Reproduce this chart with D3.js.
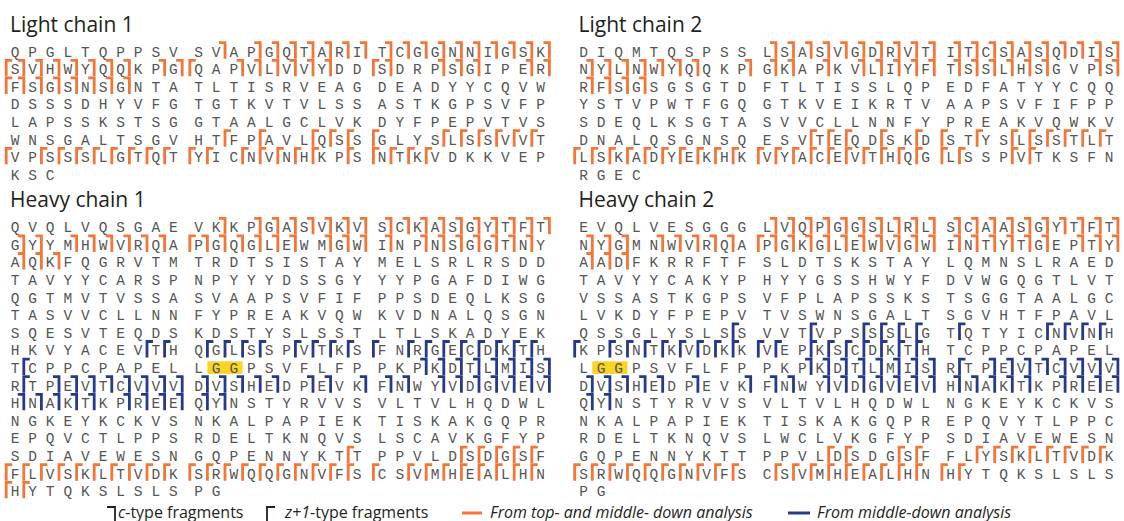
<!DOCTYPE html>
<html>
<head>
<meta charset="utf-8">
<title></title>
<script src="https://cdn.jsdelivr.net/npm/d3@7"></script>
<style>
  body { margin:0; background:#fff; }
  svg { display:block; }
  .title { font-family: "Open Sans", sans-serif; font-size: 21px; fill: #231f20; }
  .res { font-family: "Courier New", "Liberation Mono", monospace; font-size: 14.5px; fill: #555; }
  .legend text { font-family: "Open Sans", sans-serif; font-size: 16px; fill: #231f20; }
</style>
</head>
<body>
<script>
// sequences, one string of 30 residues per row
const lc1Seq = [
  "QPGLTQPPSVSVAPGQTARITCGGNNIGSK",
  "SVHWYQQKPGQAPVLVVYDDSDRPSGIPER",
  "FSGSNSGNTATLTISRVEAGDEADYYCQVW",
  "DSSSDHYVFGTGTKVTVLSSASTKGPSVFP",
  "LAPSSKSTSGGTAALGCLVKDYFPEPVTVS",
  "WNSGALTSGVHTFPAVLQSSGLYSLSSVVT",
  "VPSSSLGTQTYICNVNHKPSNTKVDKKVEP",
  "KSC"
];
const lc2Seq = [
  "DIQMTQSPSSLSASVGDRVTITCSASQDIS",
  "NYLNWYQQKPGKAPKVLIYFTSSLHSGVPS",
  "RFSGSGSGTDFTLTISSLQPEDFATYYCQQ",
  "YSTVPWTFGQGTKVEIKRTVAAPSVFIFPP",
  "SDEQLKSGTASVVCLLNNFYPREAKVQWKV",
  "DNALQSGNSQESVTEQDSKDSTYSLSSTLT",
  "LSKADYEKHKVYACEVTHQGLSSPVTKSFN",
  "RGEC"
];
const hc1Seq = [
  "QVQLVQSGAEVKKPGASVKVSCKASGYTFT",
  "GYYMHWVRQAPGQGLEWMGWINPNSGGTNY",
  "AQKFQGRVTMTRDTSISTAYMELSRLRSDD",
  "TAVYYCARSPNPYYYDSSGYYYPGAFDIWG",
  "QGTMVTVSSASVAAPSVFIFPPSDEQLKSG",
  "TASVVCLLNNFYPREAKVQWKVDNALQSGN",
  "SQESVTEQDSKDSTYSLSSTLTLSKADYEK",
  "HKVYACEVTHQGLSSPVTKSFNRGECDKTH",
  "TCPPCPAPELLGGPSVFLFPPKPKDTLMIS",
  "RTPEVTCVVVDVSHEDPEVKFNWYVDGVEV",
  "HNAKTKPREEQYNSTYRVVSVLTVLHQDWL",
  "NGKEYKCKVSNKALPAPIEKTISKAKGQPR",
  "EPQVCTLPPSRDELTKNQVSLSCAVKGFYP",
  "SDIAVEWESNGQPENNYKTTPPVLDSDGSF",
  "FLVSKLTVDKSRWQQGNVFSCSVMHEALHN",
  "HYTQKSLSLSPG"
];
const hc2Seq = [
  "EVQLVESGGGLVQPGGSLRLSCAASGYTFT",
  "NYGMNWVRQAPGKGLEWVGWINTYTGEPTY",
  "AADFKRRFTFSLDTSKSTAYLQMNSLRAED",
  "TAVYYCAKYPHYYGSSHWYFDVWGQGTLVT",
  "VSSASTKGPSVFPLAPSSKSTSGGTAALGC",
  "LVKDYFPEPVTVSWNSGALTSGVHTFPAVL",
  "QSSGLYSLSSVVTVPSSSLGTQTYICNVNH",
  "KPSNTKVDKKVEPKSCDKTHTCPPCPAPEL",
  "LGGPSVFLFPPKPKDTLMISRTPEVTCVVV",
  "DVSHEDPEVKFNWYVDGVEVHNAKTKPREE",
  "QYNSTYRVVSVLTVLHQDWLNGKEYKCKVS",
  "NKALPAPIEKTISKAKGQPREPQVYTLPPC",
  "RDELTKNQVSLWCLVKGFYPSDIAVEWESN",
  "GQPENNYKTTPPVLDSDGSFFLYSKLTVDK",
  "SRWQQGNVFSCSVMHEALHNHYTQKSLSLS",
  "PG"
];

// fragment sites per residue: c = c-type after residue, z = z+1-type before residue,
// b = both; lower case = top- and middle-down, upper case = middle-down only
const lc1Marks = [
  "...........c.ccccccccccccccccc",
  "bcccccc.ccz.cccccc..b..ccc..cc",
  "bcccccc.......................",
  "", "",
  "............z.z..zzzz...zzzzzz",
  "z.zzzzzzzzzz.zzzzz.zzzzz......",
  ""
];
const lc2Marks = [
  "..........cccccccccccccccccccc",
  "ccccccc..ccc.c.ccccccccccc..cc",
  "cccc..........................",
  "", "",
  ".............zzz.z.zz.z.zzzzzz",
  "zzzzzzzzzzzzzzzzzzzzzz..zz....",
  ""
];
const hc1Marks = [
  "...........c.ccccccccccccccccc",
  "cc.cccccc.bccccc.cccc.ccccccc.",
  "ccc...........................",
  "", "", "", "",
  "........ZZ.ZZZZ.ZZZZZ.ZZZZZZZZ",
  ".Z....................CCCCCCCC",
  ".ZCCCCCCCCCCCCC.CC.CCC.CCCCCCC",
  "CCCCC.CCCCCC..................",
  "", "",
  "...................z.....zzzzz",
  "zzzzzzzzzzzzzzzzzzzzz.zzzzzzzz",
  "zz"
];
const hc2Marks = [
  "..........cccccccccccccccccccc",
  "ccc.ccccc.bccccccccccccccc.ccc",
  "ccc...........................",
  "", "", "",
  ".........Z...Z..ZZZZ.Z....ZZZZ",
  "Z.ZZZZZZZZZZ.ZZZZZZZ..........",
  "............CCCCCCCC.ZCCCCCCCC",
  "CCCCC.C..CCC.CCCCCCCCCCCC.CCCC",
  "CC............................",
  "", "",
  "..............zz..zz..zzzzzzzz",
  "zzzzzzzzzz.zzzzzzzzzzz........",
  ""
];

// highlighted residues: [row, firstCol, lastCol]
const hc1Highlight = [8, 11, 12];
const hc2Highlight = [8, 1, 2];

const titles = ["Light chain 1", "Light chain 2", "Heavy chain 1", "Heavy chain 2"];

const orange = "#f47536", blue = "#26398c", yellow = "#f9d424";

const W = 1124, H = 521;
const svg = d3.select("body").append("svg").attr("width", W).attr("height", H);

// position scales
const colX = d3.scaleLinear().domain([0, 9]).range([0, 9 * 17.6]);
const groupX = d3.scaleLinear().domain([0, 2]).range([0, 367.2]);
const rowY = d3.scaleLinear().domain([0, 1]).range([0, 17.6]);
const xOf = c => groupX(Math.floor(c / 10)) + colX(c % 10);

const panels = [
  {title: titles[0], seq: lc1Seq, marks: lc1Marks, x: 15, y: 51.7},
  {title: titles[1], seq: lc2Seq, marks: lc2Marks, x: 583.5, y: 51.7},
  {title: titles[2], seq: hc1Seq, marks: hc1Marks, x: 15, y: 227.3, hl: hc1Highlight},
  {title: titles[3], seq: hc2Seq, marks: hc2Marks, x: 583.5, y: 227.3, hl: hc2Highlight}
];

const half = 8.8, tick = 6, markTop = 9, markBot = 7;

panels.forEach(p => {
  const g = svg.append("g").attr("transform", `translate(${p.x},${p.y})`);

  g.append("text").attr("class", "title")
    .attr("x", -5).attr("y", -20).text(p.title);

  if (p.hl) {
    const [r, c0, c1] = p.hl;
    g.append("rect")
      .attr("x", xOf(c0) - 8.8).attr("y", rowY(r) - 6.8)
      .attr("width", xOf(c1) - xOf(c0) + 17.6).attr("height", 12.6)
      .attr("fill", yellow);
  }

  const residues = [];
  p.seq.forEach((s, r) => s.split("").forEach((a, c) => residues.push({a, r, c})));

  g.selectAll("text.res").data(residues).enter().append("text")
    .attr("class", "res")
    .attr("x", d => xOf(d.c)).attr("y", d => rowY(d.r) + 5)
    .attr("text-anchor", "middle")
    .text(d => d.a);

  const marks = [];
  p.marks.forEach((s, r) => s.split("").forEach((m, c) => {
    if (m === ".") return;
    const col = m === m.toUpperCase() ? blue : orange;
    const t = m.toLowerCase();
    if (t === "c" || t === "b") marks.push({r, c, side: 1, col});
    if (t === "z" || t === "b") marks.push({r, c, side: -1, col});
  }));

  g.selectAll("path.mark").data(marks).enter().append("path")
    .attr("class", "mark")
    .attr("d", d => {
      const vx = xOf(d.c) + d.side * half, y = rowY(d.r);
      return `M${vx - d.side * tick},${y - markTop}H${vx}V${y + markBot}`;
    })
    .attr("fill", "none")
    .attr("stroke", d => d.col)
    .attr("stroke-width", 2.8);
});

// legend
const legendLabels = [
  [["c", true], ["-type fragments", false]],
  [["z+1", true], ["-type fragments", false]],
  [["From top- and middle- down analysis", true]],
  [["From middle-down analysis", true]]
];
const legendX = [118, 285, 490, 817];
const lg = svg.append("g").attr("class", "legend");
lg.append("path").attr("d", "M107,507H115V521").attr("fill", "none").attr("stroke", "#231f20").attr("stroke-width", 1.8);
lg.append("path").attr("d", "M275,507H267V521").attr("fill", "none").attr("stroke", "#231f20").attr("stroke-width", 1.8);
lg.append("line").attr("x1", 462).attr("x2", 482).attr("y1", 513).attr("y2", 513).attr("stroke", orange).attr("stroke-width", 3);
lg.append("line").attr("x1", 788).attr("x2", 810).attr("y1", 513).attr("y2", 513).attr("stroke", blue).attr("stroke-width", 3);
legendLabels.forEach((parts, i) => {
  const t = lg.append("text").attr("x", legendX[i]).attr("y", 518);
  parts.forEach(([s, it]) => t.append("tspan").attr("font-style", it ? "italic" : "normal").text(s));
});
</script>
</body>
</html>
